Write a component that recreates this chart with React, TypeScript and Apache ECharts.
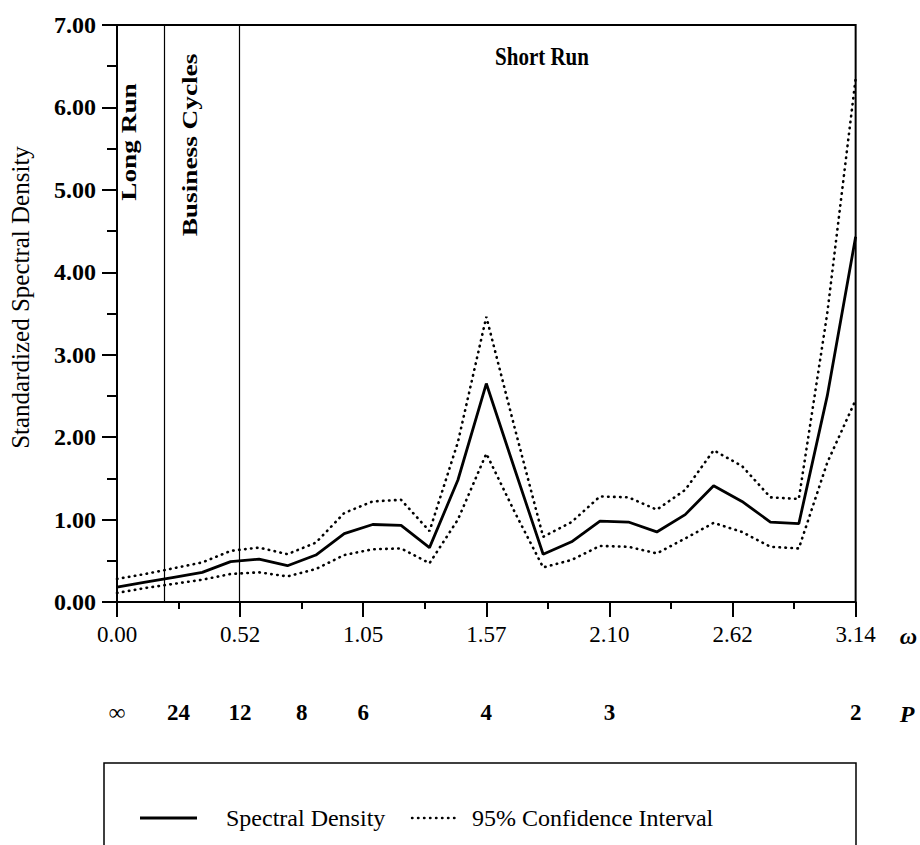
import React, { useEffect, useRef } from "react";
import * as echarts from "echarts";

const PI = Math.PI;

// Fourier frequencies (omega_j = 2*pi*j/52)
const omega = [
  0, 0.1208, 0.2417, 0.3625, 0.4833, 0.6042, 0.725, 0.8458, 0.9666, 1.0875,
  1.2083, 1.3291, 1.45, 1.5708, 1.6916, 1.8125, 1.9333, 2.0541, 2.175, 2.2958,
  2.4166, 2.5375, 2.6583, 2.7791, 2.8999, 3.0208, 3.1416,
];
const spectral = [
  0.18, 0.24, 0.3, 0.36, 0.49, 0.52, 0.44, 0.57, 0.83, 0.94, 0.93, 0.66, 1.48,
  2.65, 1.61, 0.58, 0.73, 0.98, 0.97, 0.85, 1.06, 1.41, 1.22, 0.97, 0.95, 2.5,
  4.43,
];
const upperCI = [
  0.28, 0.34, 0.41, 0.48, 0.62, 0.66, 0.58, 0.72, 1.08, 1.22, 1.24, 0.86, 1.94,
  3.46, 2.11, 0.79, 0.97, 1.28, 1.27, 1.12, 1.36, 1.84, 1.65, 1.27, 1.25, 3.5,
  6.35,
];
const lowerCI = [
  0.11, 0.17, 0.22, 0.27, 0.34, 0.36, 0.31, 0.4, 0.57, 0.64, 0.65, 0.47, 1.0,
  1.8, 1.09, 0.42, 0.51, 0.68, 0.67, 0.59, 0.77, 0.96, 0.85, 0.67, 0.65, 1.69,
  2.45,
];
const omegaTickLabels = ["0.00", "0.52", "1.05", "1.57", "2.10", "2.62", "3.14"];
const periodLabels = ["∞", "24", "12", "8", "6", "4", "3", "2"];
const periodValues = [Infinity, 24, 12, 8, 6, 4, 3, 2];
const regionBoundaryPeriods = [32, 12];
const regionNames = ["Long Run", "Business Cycles", "Short Run"];
const legendNames = ["Spectral Density", "95% Confidence Interval"];

const SERIF = '"Liberation Serif", "Times New Roman", serif';

export default function App() {
  const ref = useRef<HTMLDivElement>(null);

  useEffect(() => {
    document.body.style.margin = "0";
    const chart = echarts.init(ref.current!, null, { renderer: "svg" });
    const pts = (vals: number[]) => omega.map((w, i) => [w, vals[i]]);
    const periodOmega = periodValues.map((p) => (p === Infinity ? 0 : (2 * PI) / p));
    const dotted = {
      color: "#000",
      width: 2.6,
      type: [0.5, 5.5],
      cap: "round",
    };
    const annot = (text: string, x: number, y: number, rotated: boolean) => ({
      type: "text",
      x,
      y,
      rotation: rotated ? PI / 2 : 0,
      scaleX: rotated ? 1.3 : 1,
      scaleY: rotated ? 1 : 1.15,
      style: {
        text,
        fontFamily: SERIF,
        fontSize: 21,
        fontWeight: "bold",
        fill: "#000",
        textAlign: "center",
        textVerticalAlign: "middle",
      },
    });

    chart.setOption({
      animation: false,
      backgroundColor: "#fff",
      grid: {
        left: 105,
        right: 64,
        top: 25,
        bottom: 243,
        show: true,
        borderColor: "#000",
        borderWidth: 2,
        containLabel: false,
      },
      xAxis: [
        {
          type: "value",
          min: 0,
          max: PI,
          interval: PI / 6,
          position: "bottom",
          name: "ω",
          nameLocation: "end",
          nameGap: 44,
          nameMoveOverlap: false,
          nameTextStyle: {
            fontFamily: SERIF,
            fontSize: 24,
            fontWeight: "bold",
            fontStyle: "italic",
            color: "#000",
            verticalAlign: "top",
            padding: [22, 0, 0, 0],
          },
          axisLine: { lineStyle: { color: "#000", width: 2 } },
          axisTick: { length: 15, lineStyle: { color: "#000", width: 2 } },
          minorTick: {
            show: true,
            splitNumber: 2,
            length: 7,
            lineStyle: { color: "#000", width: 2 },
          },
          splitLine: { show: false },
          minorSplitLine: { show: false },
          axisLabel: {
            formatter: (v: number) => omegaTickLabels[Math.round(v / (PI / 6))] ?? "",
            fontFamily: SERIF,
            fontSize: 23,
            color: "#000",
            margin: 21,
          },
        },
        {
          type: "value",
          min: 0,
          max: PI,
          position: "bottom",
          offset: 90,
          name: "P",
          nameLocation: "end",
          nameGap: 44,
          nameMoveOverlap: false,
          nameTextStyle: {
            fontFamily: SERIF,
            fontSize: 24,
            fontWeight: "bold",
            fontStyle: "italic",
            color: "#000",
            verticalAlign: "top",
            padding: [10, 0, 0, 0],
          },
          axisLine: { show: false },
          axisTick: { show: false },
          splitLine: { show: false },
          axisLabel: {
            customValues: periodOmega,
            formatter: (v: number) => {
              const i = periodOmega.findIndex((w) => Math.abs(w - v) < 1e-6);
              return i >= 0 ? periodLabels[i] : "";
            },
            fontFamily: SERIF,
            fontSize: 23,
            fontWeight: "bold",
            color: "#000",
            margin: 9,
          },
        },
      ],
      yAxis: {
        type: "value",
        min: 0,
        max: 7,
        interval: 1,
        name: "Standardized Spectral Density",
        nameLocation: "middle",
        nameGap: 84,
        nameRotate: 90,
        nameTextStyle: {
          fontFamily: SERIF,
          fontSize: 25,
          color: "#000",
          padding: [0, 0, 0, 32],
        },
        axisLine: { show: true, lineStyle: { color: "#000", width: 2 } },
        axisTick: { show: true, length: 15, lineStyle: { color: "#000", width: 2 } },
        minorTick: {
          show: true,
          splitNumber: 2,
          length: 10,
          lineStyle: { color: "#000", width: 2 },
        },
        splitLine: { show: false },
        minorSplitLine: { show: false },
        axisLabel: {
          formatter: (v: number) => v.toFixed(2),
          fontFamily: SERIF,
          fontSize: 24,
          fontWeight: "bold",
          color: "#000",
          margin: 21,
        },
      },
      series: [
        {
          name: legendNames[0],
          type: "line",
          data: pts(spectral),
          symbol: "none",
          lineStyle: { color: "#000", width: 2.8 },
          z: 3,
          markLine: {
            silent: true,
            symbol: ["none", "none"],
            label: { show: false },
            lineStyle: { color: "#000", width: 1.2, type: "solid" },
            data: regionBoundaryPeriods.map((p) => ({ xAxis: (2 * PI) / p })),
          },
        },
        {
          name: legendNames[1],
          type: "line",
          data: pts(upperCI),
          symbol: "none",
          lineStyle: dotted,
        },
        {
          name: legendNames[1],
          type: "line",
          data: pts(lowerCI),
          symbol: "none",
          lineStyle: dotted,
        },
      ],
      graphic: [
        annot(regionNames[0], 129, 142, true),
        annot(regionNames[1], 190, 145, true),
        annot(regionNames[2], 542, 57, false),
        {
          type: "rect",
          shape: { x: 104, y: 763, width: 752, height: 120 },
          style: { fill: "none", stroke: "#000", lineWidth: 1.5 },
        },
        {
          type: "line",
          shape: { x1: 140, y1: 818, x2: 197, y2: 818 },
          style: { stroke: "#000", lineWidth: 2.8 },
        },
        {
          type: "text",
          x: 226,
          y: 818,
          style: {
            text: legendNames[0],
            fontFamily: SERIF,
            fontSize: 24,
            fill: "#000",
            textAlign: "left",
            textVerticalAlign: "middle",
          },
        },
        {
          type: "line",
          shape: { x1: 412, y1: 818, x2: 460, y2: 818 },
          style: { stroke: "#000", lineWidth: 2.4, lineDash: [0.5, 5.5], lineCap: "round" },
        },
        {
          type: "text",
          x: 472,
          y: 818,
          style: {
            text: legendNames[1],
            fontFamily: SERIF,
            fontSize: 24,
            fill: "#000",
            textAlign: "left",
            textVerticalAlign: "middle",
          },
        },
      ],
    });

    return () => chart.dispose();
  }, []);

  return (
    <div
      ref={ref}
      style={{ position: "fixed", left: 0, top: 0, width: 920, height: 845, background: "#fff" }}
    />
  );
}
